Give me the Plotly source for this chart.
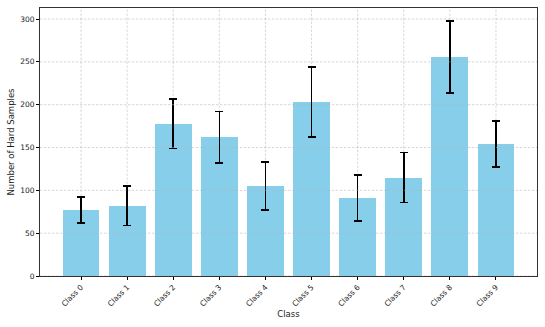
import plotly.graph_objects as go

# Data
classes = [f"Class {i}" for i in range(10)]
hard_counts = [77, 82, 178, 162, 105, 203, 91, 115, 256, 154]
count_errors = [15, 23, 29, 30, 28, 41, 27, 29, 42, 27]
y_ticks = [0, 50, 100, 150, 200, 250, 300]

FONT = "DejaVu Sans"
GRID = "rgba(180,180,180,0.75)"

fig = go.Figure()

fig.add_trace(go.Bar(
    x=list(range(len(classes))),
    y=hard_counts,
    width=0.8,
    marker=dict(color="#87CEEB", line=dict(width=0)),
    error_y=dict(type="data", array=count_errors, visible=True,
                 color="black", thickness=1.6, width=4),
    showlegend=False,
))

# dashed grid, horizontal lines over the bars like matplotlib does
for i in range(len(classes)):
    fig.add_shape(type="line", xref="x", yref="paper", x0=i, x1=i, y0=0, y1=1,
                  line=dict(color=GRID, width=0.7, dash="2.5px,1.5px"), layer="below")
for t in y_ticks:
    fig.add_shape(type="line", xref="paper", yref="y", x0=0, x1=1, y0=t, y1=t,
                  line=dict(color=GRID, width=0.7, dash="2.5px,1.5px"), layer="above")

ymax = max(v + e for v, e in zip(hard_counts, count_errors)) * 1.05

fig.update_layout(
    width=545, height=327,
    margin=dict(l=40, r=8, t=8, b=51),
    plot_bgcolor="white", paper_bgcolor="white",
    font=dict(family=FONT, size=7.5, color="#1a1a1a"),
    bargap=0,
)
fig.update_xaxes(
    range=[-0.89, 9.89], automargin=False,
    tickvals=list(range(len(classes))), ticktext=classes,
    tickangle=-45, ticks="outside", ticklen=3, tickwidth=0.8, tickcolor="black",
    showgrid=False, zeroline=False,
    showline=True, linecolor="#333", linewidth=1, mirror=True,
    title=dict(text="Class", font=dict(size=8.5), standoff=3),
)
fig.update_yaxes(
    range=[0, ymax], automargin=False,
    tickvals=y_ticks, ticks="outside", ticklen=3, tickwidth=0.8, tickcolor="black",
    showgrid=False, zeroline=False,
    showline=True, linecolor="#333", linewidth=1, mirror=True,
    title=dict(text="Number of Hard Samples", font=dict(size=8.5), standoff=4),
)

fig.write_html("out.html", config={"displayModeBar": False},
               post_script="document.body.style.margin='0';")
